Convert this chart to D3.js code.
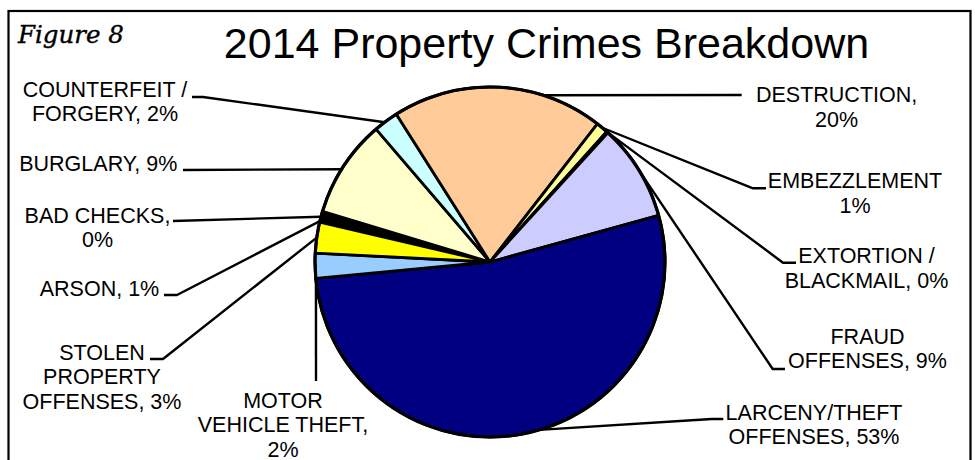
<!DOCTYPE html>
<html>
<head>
<meta charset="utf-8">
<script src="https://cdn.jsdelivr.net/npm/d3@7/dist/d3.min.js"></script>
<style>
  html, body { margin: 0; padding: 0; background: #fff; }
  svg { display: block; }
</style>
</head>
<body>
<svg id="chart" width="975" height="460"></svg>
<script>
// 2014 property crimes, share of total (%), in data order
const categories = [
  "ARSON", "BAD CHECKS", "BURGLARY", "COUNTERFEIT / FORGERY", "DESTRUCTION",
  "EMBEZZLEMENT", "EXTORTION / BLACKMAIL", "FRAUD OFFENSES",
  "LARCENY/THEFT OFFENSES", "MOTOR VEHICLE THEFT", "STOLEN PROPERTY OFFENSES"
];
const shares = [0.75, 0.25, 9.05, 2.3, 19.5, 1.1, 0.15, 8.95, 52.8, 2.3, 2.85];
const sliceColors = [
  "#000000", "#ff99cc", "#ffffcc", "#ccffff", "#ffcc99",
  "#ffff99", "#cc99ff", "#ccccff", "#000080", "#99ccff", "#ffff00"
];

// label lines per category; {p} is replaced with the rounded share
const labelLines = [
  ["ARSON, {p}"],
  ["BAD CHECKS,", "{p}"],
  ["BURGLARY, {p}"],
  ["COUNTERFEIT /", "FORGERY, {p}"],
  ["DESTRUCTION,", "{p}"],
  ["EMBEZZLEMENT", "{p}"],
  ["EXTORTION /", "BLACKMAIL, {p}"],
  ["FRAUD", "OFFENSES, {p}"],
  ["LARCENY/THEFT", "OFFENSES, {p}"],
  ["MOTOR", "VEHICLE THEFT,", "{p}"],
  ["STOLEN", "PROPERTY", "OFFENSES, {p}"]
];

// label placement: text centre x, first baseline, leader attach angle (deg), elbow, tail
const labelLayout = [
  { x: 99.5, y: 295.7, at: 283.5, elbow: [177, 295], tail: [164, 295] },
  { x: 97.5, y: 222.7, at: 285,   elbow: [173, 221], tail: [173, 221] },
  { x: 98.3, y: 170.5, at: 302,   elbow: [183, 170], tail: [183, 170] },
  { x: 105,  y: 97,    at: 323,   elbow: [203, 97],  tail: [192, 97] },
  { x: 836.6, y: 102.3, at: 17.6, elbow: [741.7, 95], tail: [741.7, 95] },
  { x: 855,  y: 188.3, at: 39.9,  elbow: [753, 188.3], tail: [766, 188.3] },
  { x: 866.5, y: 263.3, at: 41.7, elbow: [783, 262.7], tail: [796, 262.7] },
  { x: 867.5, y: 344,  at: 59,    elbow: [772.7, 369], tail: [785, 369] },
  { x: 814,  y: 420,   at: 163.6, elbow: [711.7, 419], tail: [723.3, 419] },
  { x: 283,  y: 408,   at: 264,   elbow: [316, 381], tail: [316, 381] },
  { x: 102,  y: 360,   at: 278,   elbow: [163, 359], tail: [150, 359] }
];

const cx = 490, cy = 262, radius = 175;
const lineHeight = 24.3;
const labelFont = "'Liberation Sans', Arial, sans-serif";

const svg = d3.select("#chart");

// frame
svg.append("rect")
  .attr("x", 8.5).attr("y", 11).attr("width", 962).attr("height", 470)
  .attr("fill", "none").attr("stroke", "#000").attr("stroke-width", 2.2);

// headings
svg.append("text")
  .attr("x", 18).attr("y", 43)
  .attr("font-family", "'DejaVu Serif', 'Liberation Serif', serif")
  .attr("font-style", "italic").attr("font-size", 24.5)
  .attr("stroke", "#000").attr("stroke-width", 0.4)
  .text("Figure 8");

svg.append("text")
  .attr("x", 546.5).attr("y", 58)
  .attr("text-anchor", "middle")
  .attr("font-family", labelFont).attr("font-size", 43)
  .text("2014 Property Crimes Breakdown");

const total = d3.sum(shares);
const pctText = d => Math.round(d / total * 100) + "%";
const rad = deg => deg * Math.PI / 180;
const color = d3.scaleOrdinal().domain(categories).range(sliceColors);

const start = rad(283.2);
const pie = d3.pie().value(d => d.value).sort(null)
  .startAngle(start).endAngle(start + 2 * Math.PI);
const arc = d3.arc().innerRadius(0).outerRadius(radius);

const rows = categories.map((c, i) => ({ name: c, value: shares[i], i }));
const arcs = pie(rows);

const g = svg.append("g").attr("transform", `translate(${cx},${cy})`);
g.selectAll("path.slice")
  .data(arcs)
  .join("path")
  .attr("class", "slice")
  .attr("d", arc)
  .attr("fill", d => color(d.data.name))
  .attr("stroke", "#000")
  .attr("stroke-width", 2.8)
  .attr("stroke-linejoin", "round");

// outer rim drawn a little heavier
g.append("circle")
  .attr("r", radius)
  .attr("fill", "none")
  .attr("stroke", "#000")
  .attr("stroke-width", 3.2);

// leader lines
const edgePoint = deg => [cx + radius * Math.sin(rad(deg)), cy - radius * Math.cos(rad(deg))];
const line = d3.line();
svg.append("g").selectAll("path")
  .data(labelLayout)
  .join("path")
  .attr("d", d => line([edgePoint(d.at), d.elbow, d.tail]))
  .attr("fill", "none")
  .attr("stroke", "#000")
  .attr("stroke-width", 2.4)
  .attr("stroke-linejoin", "round");

// labels
const labels = svg.append("g")
  .attr("font-family", labelFont)
  .attr("font-size", 21.5)
  .attr("fill", "#000")
  .attr("text-anchor", "middle");

categories.forEach((c, i) => {
  const lay = labelLayout[i];
  const t = labels.append("text").attr("x", lay.x).attr("y", lay.y);
  labelLines[i].forEach((ln, k) => {
    t.append("tspan")
      .attr("x", lay.x)
      .attr("y", lay.y + k * lineHeight)
      .text(ln.replace("{p}", pctText(shares[i])));
  });
});
</script>
</body>
</html>
